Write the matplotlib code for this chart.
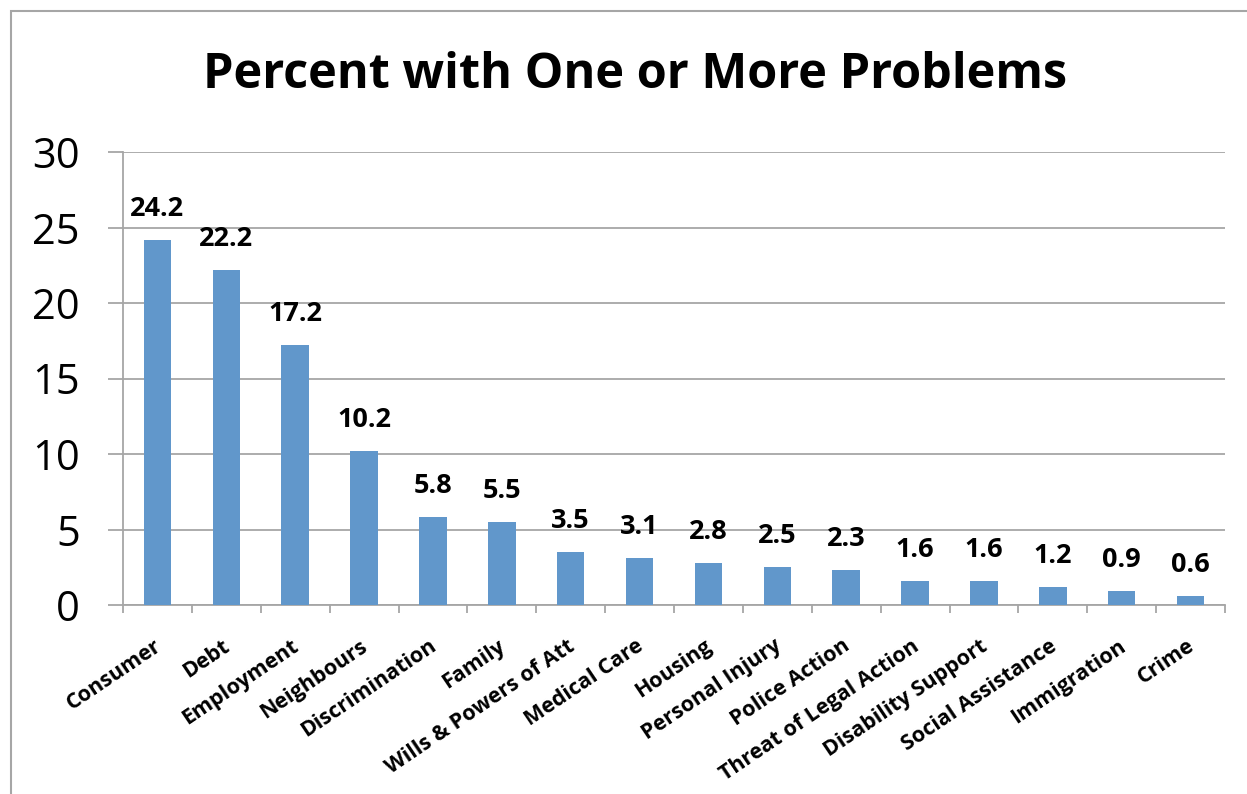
import matplotlib.pyplot as plt
from matplotlib.patches import Rectangle
import matplotlib.transforms as mtransforms
import numpy as np

plt.rcParams['font.family'] = ['Open Sans', 'DejaVu Sans']

categories = ['Consumer', 'Debt', 'Employment', 'Neighbours', 'Discrimination',
              'Family', 'Wills & Powers of Att', 'Medical Care', 'Housing',
              'Personal Injury', 'Police Action', 'Threat of Legal Action',
              'Disability Support', 'Social Assistance', 'Immigration', 'Crime']
values = [24.2, 22.2, 17.2, 10.2, 5.8, 5.5, 3.5, 3.1, 2.8, 2.5, 2.3, 1.6, 1.6, 1.2, 0.9, 0.6]
yticks = [0, 5, 10, 15, 20, 25, 30]

W, H = 1247, 794
fig = plt.figure(figsize=(W / 100, H / 100), dpi=100)
# outer chart border
fig.patches.append(Rectangle((11 / W, -0.1), 1.2, 1.1 - 11 / H, transform=fig.transFigure,
                             fill=False, edgecolor='#A6A6A6', linewidth=1.5))

ax = fig.add_axes([123 / W, 1 - 605 / H, (1225 - 123) / W, (605 - 152) / H])
x = np.arange(len(categories))
bars = ax.bar(x, values, width=0.4, color='#6197CB', zorder=3)
for xi, v in zip(x, values):
    ax.annotate(f'{v:.1f}', (xi, v), xytext=(0, 13), textcoords='offset points',
                ha='center', va='bottom', fontsize=19.5, fontweight='bold')

ax.set_xlim(-0.5, len(categories) - 0.5)
ax.set_ylim(0, 30)
ax.set_yticks(yticks)
ax.set_yticklabels([str(t) for t in yticks], fontsize=30)
ax.yaxis.grid(True, color='#A6A6A6', linewidth=1.3, zorder=0)
ax.tick_params(axis='y', length=11, width=1.3, color='#A6A6A6', pad=20)

ax.set_xticks(x)
ax.set_xticklabels(categories, rotation=34, ha='right', rotation_mode='anchor',
                   fontsize=15.5, fontweight='bold')
ax.tick_params(axis='x', which='major', length=0, pad=22)
shift = mtransforms.ScaledTranslation(-4 / 100, 0, fig.dpi_scale_trans)
for lbl in ax.get_xticklabels():
    lbl.set_transform(lbl.get_transform() + shift)
ax.set_xticks(np.arange(-0.5, len(categories)), minor=True)
ax.tick_params(axis='x', which='minor', length=6, width=1.3, color='#A6A6A6')

for s in ['top', 'right']:
    ax.spines[s].set_visible(False)
for s in ['left', 'bottom']:
    ax.spines[s].set_color('#A6A6A6')
    ax.spines[s].set_linewidth(1.3)

fig.text(635 / W, 1 - 75 / H, 'Percent with One or More Problems', ha='center', va='center',
         fontsize=35, fontweight='bold')

fig.savefig('out.png', dpi=100)
